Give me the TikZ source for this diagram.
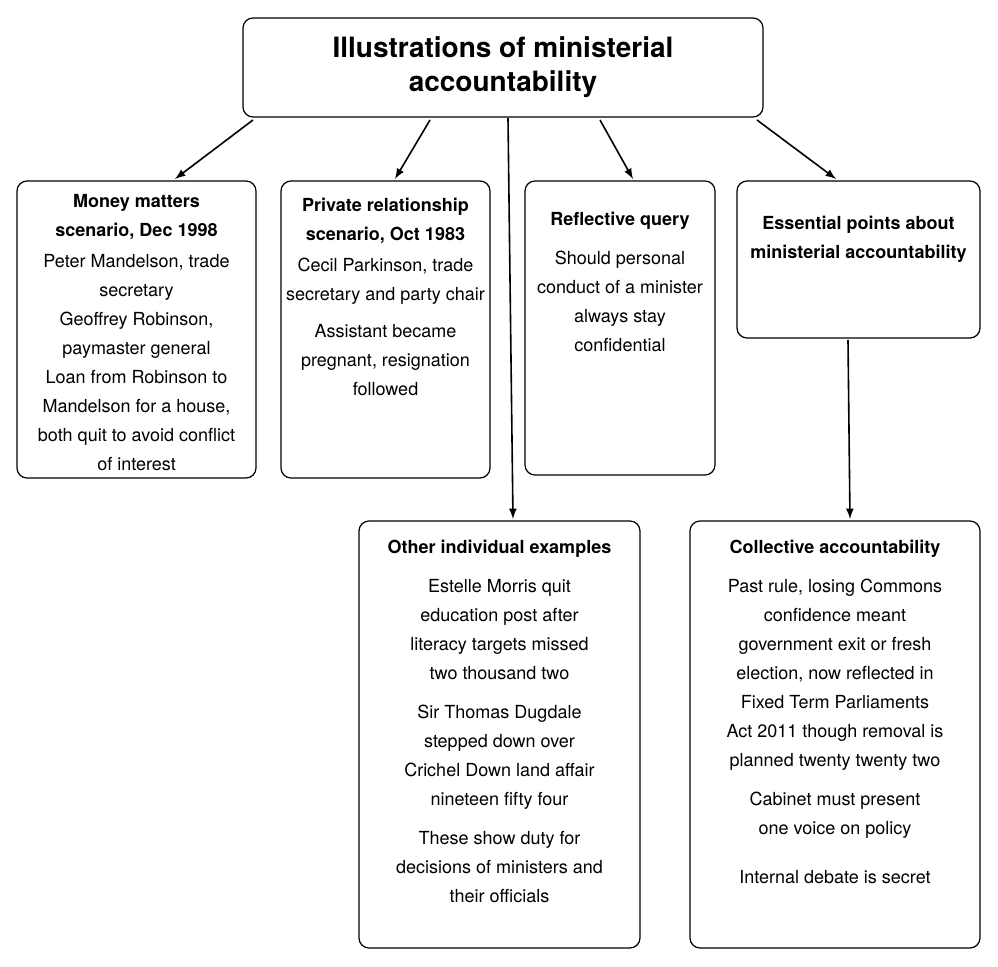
\documentclass[tikz,border=0pt]{standalone}
\usepackage{fontspec}
\setmainfont{TeX Gyre Heros}
\usetikzlibrary{positioning}
\tikzset{
  box/.style={draw,rounded corners=5pt,line width=0.6pt,inner sep=0pt},
  txt/.style={anchor=north,align=center,font=\fontsize{9}{14.5}\selectfont,inner sep=0pt},
  arr/.style={-latex,line width=0.8pt}
}
\begin{document}
\begin{tikzpicture}[x=0.5pt,y=-0.5pt]
    \useasboundingbox (0,0) rectangle (998,967);
    % boxes
    \node[box,minimum width=260pt,minimum height=49.5pt] (title) at (503,67.5) {};
    \node[box,minimum width=119.5pt,minimum height=148.5pt] (money) at (136.5,329.5) {};
    \node[box,minimum width=104.5pt,minimum height=148.5pt] (private) at (385.5,329.5) {};
    \node[box,minimum width=95pt,minimum height=147pt] (query) at (620,328) {};
    \node[box,minimum width=121.5pt,minimum height=78.5pt] (points) at (858.5,259.5) {};
    \node[box,minimum width=140.5pt,minimum height=213.5pt] (other) at (499.5,734.5) {};
    \node[box,minimum width=145pt,minimum height=213.5pt] (collective) at (835,734.5) {};
    % texts
    \node[txt,font=\fontsize{14}{17}\selectfont\bfseries] (titletext) at (title.center) [anchor=center] {Illustrations of ministerial\\accountability};
    \node[txt] (moneytext) at (136.5,194) {\textbf{Money matters}\\\textbf{scenario, Dec 1998}\\[1pt]Peter Mandelson, trade\\secretary\\Geoffrey Robinson,\\paymaster general\\Loan from Robinson to\\Mandelson for a house,\\both quit to avoid conflict\\of interest};
    \node[txt] (privatetext) at (385.5,198) {\textbf{Private relationship}\\\textbf{scenario, Oct 1983}\\[1pt]Cecil Parkinson, trade\\secretary and party chair\\[4pt]Assistant became\\pregnant, resignation\\followed};
    \node[txt] (querytext) at (620,212) {\textbf{Reflective query}\\[5pt]Should personal\\conduct of a minister\\always stay\\confidential};
    \node[txt] (pointstext) at (858.5,216) {\textbf{Essential points about}\\\textbf{ministerial accountability}};
    \node[txt] (othertext) at (499.5,540) {\textbf{Other individual examples}\\[5pt]Estelle Morris quit\\education post after\\literacy targets missed\\two thousand two\\[5pt]Sir Thomas Dugdale\\stepped down over\\Crichel Down land affair\\nineteen fifty four\\[5pt]These show duty for\\decisions of ministers and\\their officials};
    \node[txt] (collectivetext) at (835,540) {\textbf{Collective accountability}\\[5pt]Past rule, losing Commons\\confidence meant\\government exit or fresh\\election, now reflected in\\Fixed Term Parliaments\\Act 2011 though removal is\\planned twenty twenty two\\[5pt]Cabinet must present\\one voice on policy\\[10pt]Internal debate is secret};
    % connectors
    \coordinate (t1) at (253,120);
    \coordinate (t2) at (430,120);
    \coordinate (t3) at (508,118);
    \coordinate (t4) at (600,120);
    \coordinate (t5) at (757,120);
    \coordinate (m1) at (175,179);
    \coordinate (p1) at (395,179);
    \coordinate (o1) at (513,519);
    \coordinate (q1) at (633,179);
    \coordinate (e1) at (836,179);
    \coordinate (e2) at (848,340);
    \coordinate (c1) at (850,519);
    \draw[arr] (t1) -- (m1);
    \draw[arr] (t2) -- (p1);
    \draw[arr] (t3) -- (o1);
    \draw[arr] (t4) -- (q1);
    \draw[arr] (t5) -- (e1);
    \draw[arr] (e2) -- (c1);
\end{tikzpicture}
\end{document}
